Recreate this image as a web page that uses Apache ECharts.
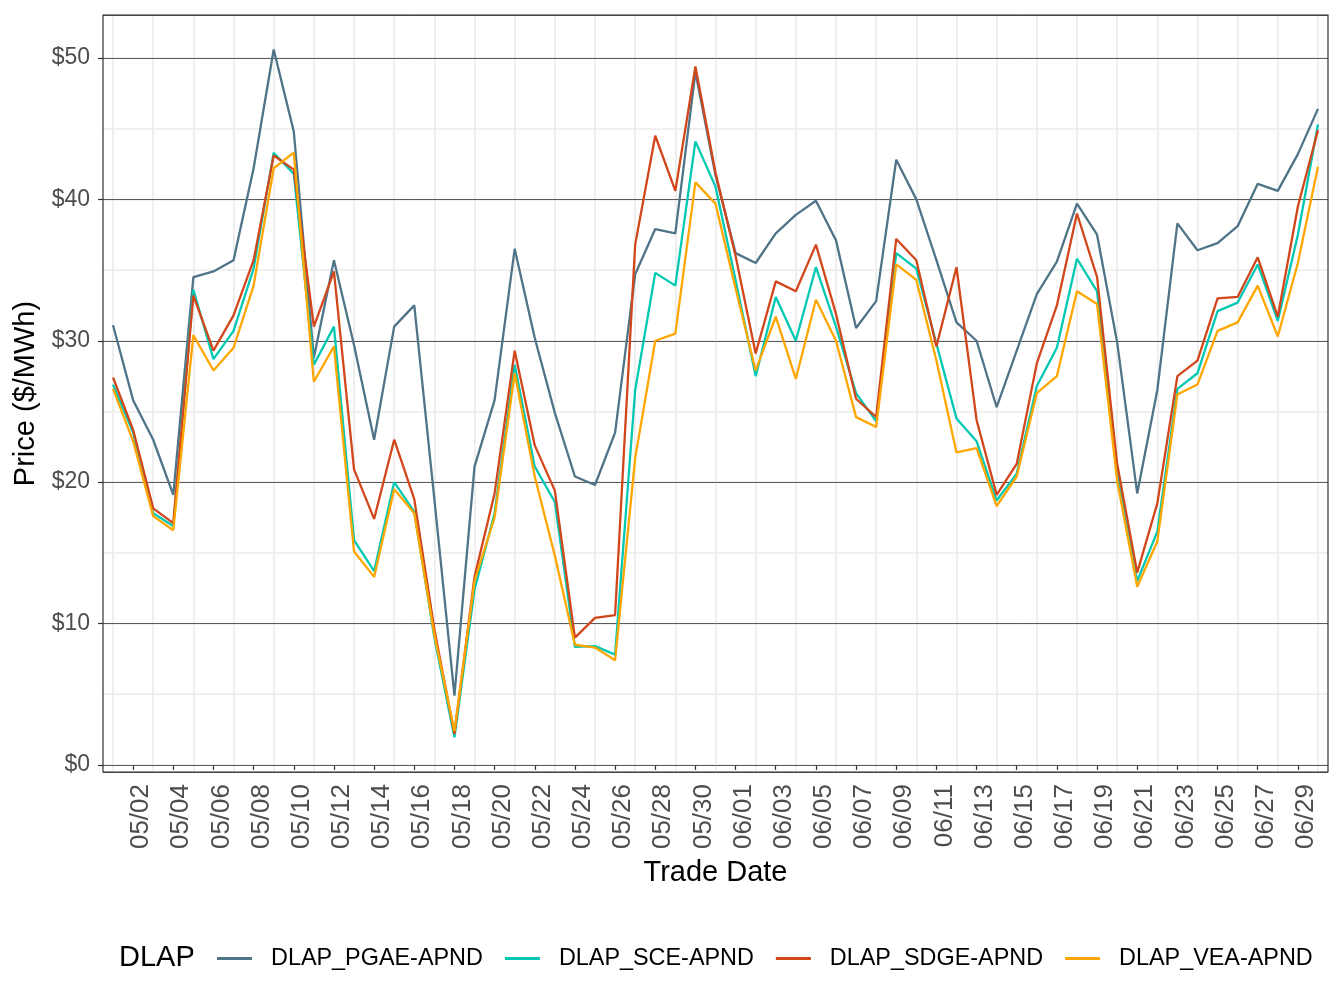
<!DOCTYPE html>
<html><head><meta charset="utf-8">
<script src="https://cdn.jsdelivr.net/npm/echarts@6/dist/echarts.min.js"></script>
<style>html,body{margin:0;padding:0;background:#fff}#c{width:1344px;height:1008px}</style>
</head><body><div id="c"></div>
<script>
const dates = ["05/01","05/02","05/03","05/04","05/05","05/06","05/07","05/08","05/09","05/10",
"05/11","05/12","05/13","05/14","05/15","05/16","05/17","05/18","05/19","05/20",
"05/21","05/22","05/23","05/24","05/25","05/26","05/27","05/28","05/29","05/30","05/31",
"06/01","06/02","06/03","06/04","06/05","06/06","06/07","06/08","06/09","06/10",
"06/11","06/12","06/13","06/14","06/15","06/16","06/17","06/18","06/19","06/20",
"06/21","06/22","06/23","06/24","06/25","06/26","06/27","06/28","06/29","06/30"];
const seriesNames = ["DLAP_PGAE-APND","DLAP_SCE-APND","DLAP_SDGE-APND","DLAP_VEA-APND"];
const pgae = [31.1,25.8,23.0,19.1,34.5,34.9,35.7,42.2,50.6,44.8,28.8,35.7,29.7,23.0,31.0,32.5,18.8,4.9,21.1,25.8,36.5,30.2,24.9,20.4,19.8,23.5,34.7,37.9,37.6,49.0,41.7,
36.2,35.5,37.6,38.9,39.9,37.1,30.9,32.8,42.8,40.0,35.7,31.3,30.0,25.3,29.3,33.3,35.6,39.7,37.5,29.9,19.2,26.5,38.3,36.4,36.9,38.1,41.1,40.6,43.2,46.4];
const sce = [26.9,23.5,17.8,16.9,33.6,28.7,30.7,35.1,43.3,41.8,28.3,31.0,15.9,13.7,20.0,17.9,9.0,1.95,12.4,17.8,28.3,21.1,18.6,8.35,8.4,7.8,26.5,34.8,33.9,44.1,40.9,
34.3,27.5,33.1,30.0,35.2,31.0,26.3,24.3,36.2,35.1,29.8,24.5,22.9,18.7,20.6,26.8,29.5,35.8,33.5,20.6,13.0,16.5,26.6,27.7,32.1,32.7,35.4,31.4,37.5,45.3];
const sdge = [27.4,23.7,18.15,17.1,33.2,29.3,31.8,35.7,43.1,42.1,31.0,34.9,20.9,17.4,23.0,18.8,9.6,2.2,13.3,19.2,29.3,22.6,19.4,9.0,10.4,10.6,36.8,44.5,40.6,49.4,41.9,
36.0,29.1,34.2,33.5,36.8,31.9,25.9,24.6,37.2,35.7,29.6,35.2,24.4,19.1,21.3,28.4,32.5,39.0,34.5,21.3,13.6,18.5,27.5,28.6,33.0,33.1,35.9,31.7,39.5,44.9];
const vea = [26.6,22.9,17.6,16.6,30.4,27.9,29.5,33.9,42.2,43.3,27.1,29.6,15.1,13.3,19.5,17.8,9.2,2.4,13.0,17.5,27.7,20.4,14.8,8.5,8.3,7.4,21.7,30.0,30.5,41.2,39.7,
33.7,27.9,31.7,27.3,32.9,30.0,24.6,23.9,35.4,34.3,28.6,22.1,22.4,18.3,20.4,26.3,27.5,33.5,32.6,20.1,12.6,15.8,26.2,26.9,30.7,31.3,33.9,30.3,35.5,42.3];
const colors = ["#4f7488","#00c8b2","#d2461c","#ffa600"];
const values = [pgae, sce, sdge, vea];

const FONT = '"Liberation Sans", Arial, Helvetica, sans-serif';
const chart = echarts.init(document.getElementById('c'), null, {renderer: 'canvas'});
const option = {
  animation: false,
  backgroundColor: '#fff',
  textStyle: {fontFamily: FONT},
  grid: {left: 103, right: 16, top: 15, bottom: 236, show: true, borderColor: '#333', borderWidth: 1.2, backgroundColor: 'transparent', z: 5},
  xAxis: {
    type: 'category', data: dates, boundaryGap: true,
    axisLine: {show: false},
    axisTick: {show: true, alignWithLabel: true, interval: function (i) { return i % 2 === 1; }, length: 5, lineStyle: {color: '#333', width: 1.2}},
    axisLabel: {interval: function (i) { return i % 2 === 1; }, rotate: 90, fontSize: 26, color: '#4d4d4d', margin: 12, fontFamily: FONT,
      verticalAlign: 'top', lineHeight: 16},
    splitLine: {show: true, alignWithLabel: true, interval: function (i) { return i % 2 === 0; }, lineStyle: {color: '#ebebeb', width: 1.6}},
    name: 'Trade Date', nameLocation: 'middle', nameGap: 86,
    nameTextStyle: {fontSize: 29, color: '#000', fontFamily: FONT}
  },
  yAxis: [{
    type: 'value', min: -0.5, max: 53.04, splitNumber: 10, position: 'left',
    axisLine: {show: false}, axisTick: {show: false}, axisLabel: {show: false},
    splitLine: {show: true, lineStyle: {color: '#ebebeb', width: 1.6}}, z: 0
  }, {
    type: 'value', min: -0.5, max: 53.04, splitNumber: 5, position: 'left',
    axisLine: {show: false},
    axisTick: {show: true, length: 5, lineStyle: {color: '#333', width: 1.2}},
    axisLabel: {fontSize: 23, color: '#4d4d4d', margin: 13, fontFamily: FONT, showMinLabel: false, showMaxLabel: false,
      formatter: function (v) { return (Math.abs(v % 10) < 1e-6) ? '$' + v : ''; }},
    splitLine: {show: true, lineStyle: {color: '#5a5a5a', width: 1}},
    name: 'Price ($/MWh)', nameLocation: 'middle', nameGap: 60, nameRotate: 90,
    nameTextStyle: {fontSize: 29, color: '#000', fontFamily: FONT}, z: 1
  }],
  legend: {
    left: 217, top: 947, orient: 'horizontal', padding: 0,
    icon: 'path://M0,0H35V3H0Z', itemWidth: 35, itemHeight: 3, itemGap: 22,
    textStyle: {fontSize: 23.4, color: '#000', fontFamily: FONT, padding: [0, 0, 0, 14]},
    data: seriesNames
  },
  graphic: [{
    type: 'text', left: 119, top: 943,
    style: {text: 'DLAP', fontSize: 29, fill: '#000', fontFamily: FONT}
  }],
  series: seriesNames.map(function (n, k) {
    return {
      name: n, type: 'line', yAxisIndex: 1, data: values[k], symbol: 'none', showSymbol: false,
      lineStyle: {color: colors[k], width: 2.3}, itemStyle: {color: colors[k]}, z: 2 + k
    };
  })
};
chart.setOption(option);
</script>
</body></html>
